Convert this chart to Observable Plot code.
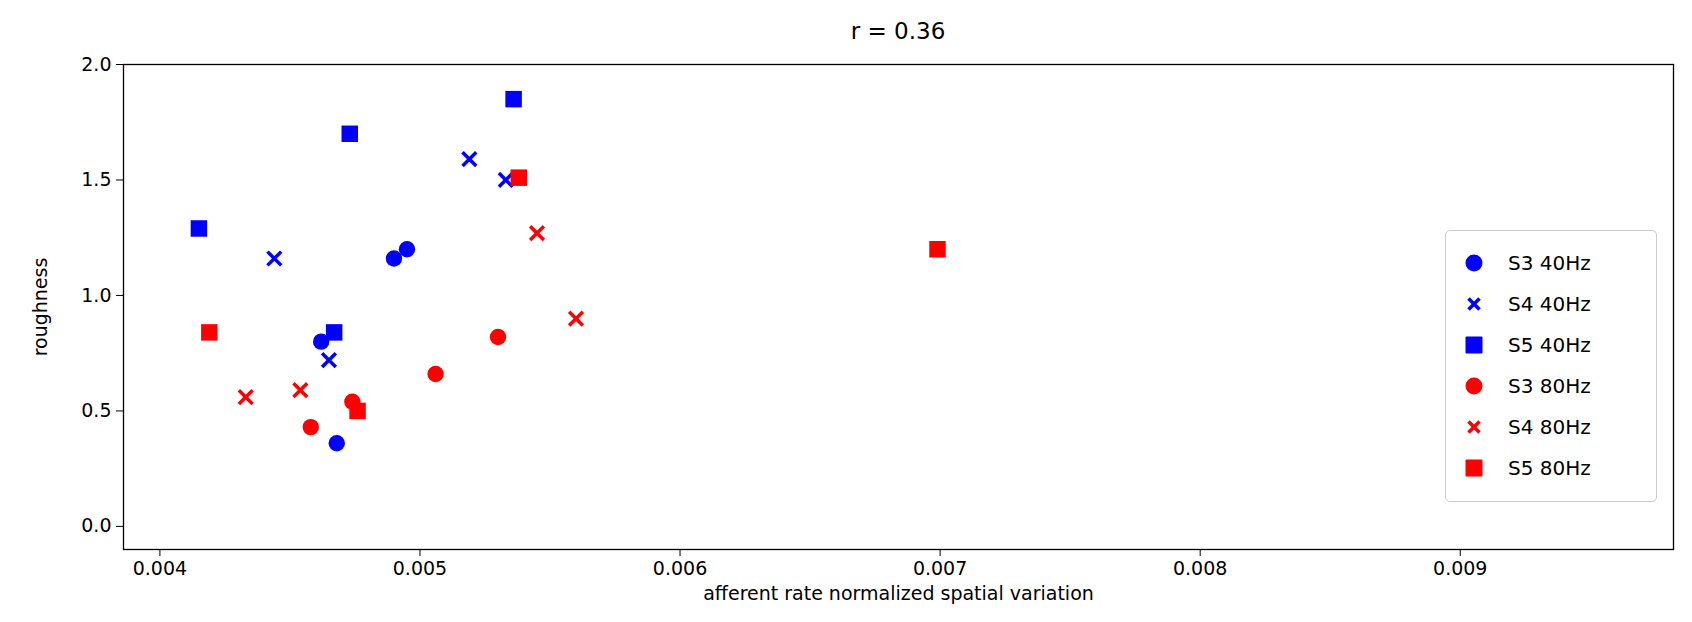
<!DOCTYPE html>
<html><head><meta charset="utf-8">
<script src="https://cdn.jsdelivr.net/npm/d3@7"></script>
<script src="https://cdn.jsdelivr.net/npm/@observablehq/plot@0.6"></script>
<style>
body{margin:0;background:#fff;font-family:"DejaVu Sans",sans-serif}
#wrap{position:relative;width:1692px;height:622px}
#title{position:absolute;top:18px;left:123px;width:1550px;text-align:center;font-size:23px}
#legend{position:absolute;left:1445px;top:230px;width:212px;height:272px;border:1.5px solid #ccc;border-radius:5px;background:rgba(255,255,255,0.85);box-sizing:border-box}
.row{position:absolute;left:0;height:40px;display:flex;align-items:center;font-size:20px}
.row svg{margin-left:18px;margin-right:24px}
</style></head><body>
<div id="wrap"><div id="title">r = 0.36</div><div id="legend"></div></div>
<script>
const seriesNames = ["S3 40Hz","S4 40Hz","S5 40Hz","S3 80Hz","S4 80Hz","S5 80Hz"];
const seriesColors = ["blue","blue","blue","red","red","red"];
const seriesSymbols = ["circle","times","square","circle","times","square"];
const s3_40_x = [0.00462,0.00490,0.00495,0.00468], s3_40_y = [0.80,1.16,1.20,0.36];
const s4_40_x = [0.00444,0.00519,0.00533,0.00465], s4_40_y = [1.16,1.59,1.50,0.72];
const s5_40_x = [0.00415,0.00473,0.00536,0.00467], s5_40_y = [1.29,1.70,1.85,0.84];
const s3_80_x = [0.00458,0.00474,0.00506,0.00530], s3_80_y = [0.43,0.54,0.66,0.82];
const s4_80_x = [0.00433,0.00454,0.00545,0.00560], s4_80_y = [0.56,0.59,1.27,0.90];
const s5_80_x = [0.00419,0.00476,0.00538,0.00699], s5_80_y = [0.84,0.50,1.51,1.20];
const xTicks = [0.004,0.005,0.006,0.007,0.008,0.009];
const yTicks = [0,0.5,1.0,1.5,2.0];
const xs=[s3_40_x,s4_40_x,s5_40_x,s3_80_x,s4_80_x,s5_80_x];
const ys=[s3_40_y,s4_40_y,s5_40_y,s3_80_y,s4_80_y,s5_80_y];
const marks=[Plot.frame({stroke:"black",strokeWidth:1.3})];
xs.forEach((xv,i)=>{
  const data=xv.map((x,j)=>({x,y:ys[i][j]}));
  const sym=seriesSymbols[i];
  if(sym==="times") marks.push(Plot.dot(data,{x:"x",y:"y",symbol:"times",r:6.3,stroke:seriesColors[i],strokeWidth:3.5,fill:"none"}));
  else marks.push(Plot.dot(data,{x:"x",y:"y",symbol:sym,r:sym==="square"?9.3:8.2,fill:seriesColors[i],stroke:"none"}));
});
const chart=Plot.plot({
  width:1692,height:622,marginLeft:123,marginRight:19,marginTop:64,marginBottom:73,
  style:{fontFamily:"DejaVu Sans",fontSize:"19px",color:"black",overflow:"visible"},
  x:{domain:[0.00386,0.00982],ticks:xTicks,tickFormat:d3.format(".3f"),tickSize:7,tickPadding:5,label:"afferent rate normalized spatial variation",labelAnchor:"center",labelArrow:"none",labelOffset:50},
  y:{domain:[-0.1,2.0],ticks:yTicks,tickFormat:d3.format(".1f"),tickSize:7,tickPadding:5,label:"roughness",labelAnchor:"center",labelArrow:"none",labelOffset:90},
  marks
});
document.getElementById("wrap").prepend(chart);
const lg=document.getElementById("legend");
seriesNames.forEach((n,i)=>{
  const row=document.createElement("div");row.className="row";row.style.top=(12+i*41)+"px";
  const sym=seriesSymbols[i],c=seriesColors[i];
  let s;
  if(sym==="circle") s=`<circle cx="10" cy="10" r="8.5" fill="${c}"/>`;
  else if(sym==="square") s=`<rect x="1.5" y="1.5" width="17" height="17" rx="1" fill="${c}"/>`;
  else s=`<path d="M4.5 4.5L15.5 15.5M15.5 4.5L4.5 15.5" stroke="${c}" stroke-width="3.5"/>`;
  row.innerHTML=`<svg width="20" height="20">${s}</svg><span>${n}</span>`;
  lg.appendChild(row);
});
</script></body></html>
